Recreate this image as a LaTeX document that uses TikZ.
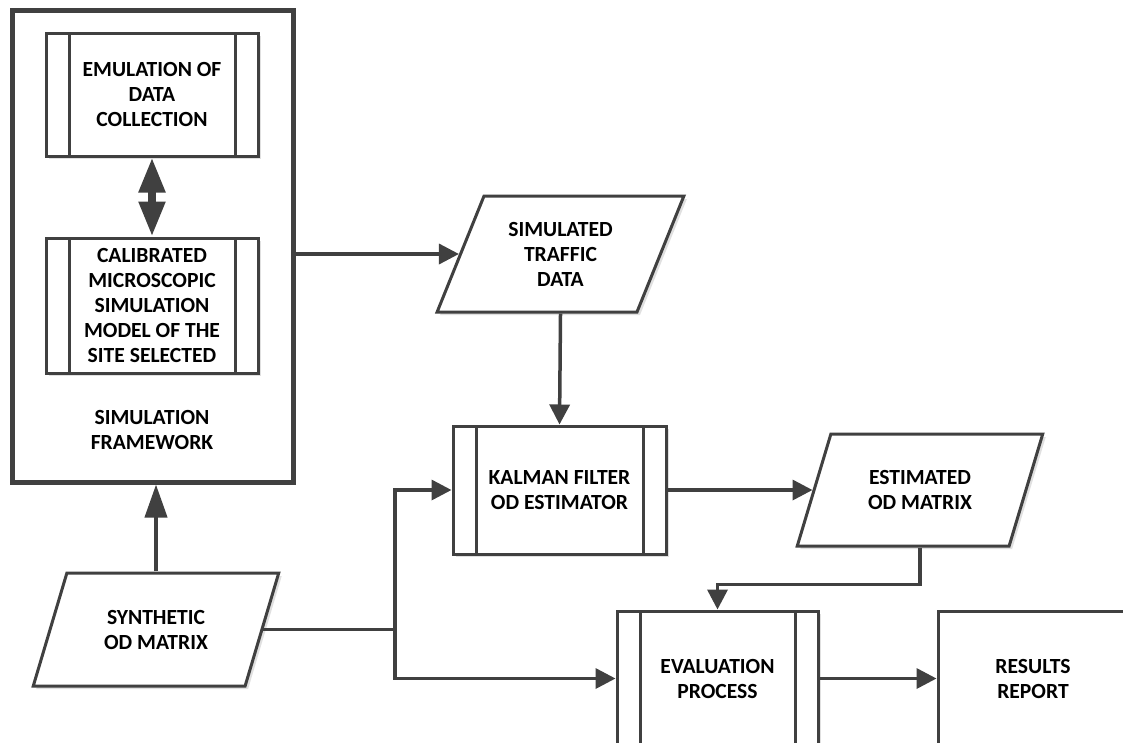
\documentclass[tikz,border=0pt]{standalone}
\usepackage{fontspec}
\setmainfont{Carlito}
\usetikzlibrary{shapes.geometric,arrows.meta,shadows,calc}
\definecolor{lc}{HTML}{404040}
\begin{document}
\begin{tikzpicture}[x=1pt,y=-1pt,
  every node/.style={font=\bfseries\fontsize{21.6}{25}\selectfont, align=center, text=black},
  shad/.style={drop shadow={shadow xshift=3pt, shadow yshift=-3pt, fill=black!12, opacity=1}},
  proc/.style={draw=lc, line width=3pt, fill=white, rectangle, inner sep=0pt, shad,
    path picture={\draw[lc, line width=3pt]
      ([xshift=23pt]path picture bounding box.north west) -- ([xshift=23pt]path picture bounding box.south west)
      ([xshift=-23pt]path picture bounding box.north east) -- ([xshift=-23pt]path picture bounding box.south east);}},
  io/.style={draw=lc, line width=3pt, fill=white, trapezium, trapezium left angle=63.5,
    trapezium right angle=116.5, trapezium stretches=true, inner sep=0pt, shad},
  arr/.style={draw=lc, line width=3.5pt, -{Triangle[length=20pt,width=20pt]}}
]
\clip (0,0) rectangle (1123,742);
\fill[white] (0,0) rectangle (1123,742);

\node[draw=lc, line width=5pt, minimum width=281pt, minimum height=472pt, inner sep=0pt, shad, fill=white] (frame) at (152.5,246) {};
\node[proc, minimum width=212pt, minimum height=123pt] (emu) at (152,94.5) {EMULATION OF\\DATA\\COLLECTION};
\node[proc, minimum width=212pt, minimum height=135pt] (cal) at (152,305.5) {CALIBRATED\\MICROSCOPIC\\SIMULATION\\MODEL OF THE\\SITE SELECTED};
\node (fwl) at (152,430) {SIMULATION\\FRAMEWORK};

\node[io, minimum width=246pt, minimum height=113pt] (syn) at (156,629.5) {SYNTHETIC\\OD MATRIX};
\node[io, minimum width=247pt, minimum height=116pt] (traf) at (560.5,254) {SIMULATED\\TRAFFIC\\DATA};
\node[proc, minimum width=213pt, minimum height=128pt] (kal) at (559.5,490) {KALMAN FILTER\\OD ESTIMATOR};
\node[io, minimum width=246pt, minimum height=112pt] (est) at (920,490) {ESTIMATED\\OD MATRIX};
\node[proc, minimum width=201pt, minimum height=135pt] (eval) at (717.5,678.5) {EVALUATION\\PROCESS};
\node[draw=lc, line width=3pt, fill=white, shad, inner sep=0pt, minimum width=190pt, minimum height=135pt] (res) at (1033,678.5) {RESULTS\\REPORT};

\draw[lc, line width=8pt, {Triangle[length=35pt,width=25pt]}-{Triangle[length=35pt,width=25pt]}] (emu.south) -- (cal.north);
\draw[lc, line width=4pt, -{Triangle[length=33pt,width=22pt]}] (syn.north) -- (syn.north |- frame.south);
\draw[arr] (frame.east |- traf.left side) -- (traf.left side);
\draw[arr] (traf.south) -- (kal.north);
\draw[arr] (kal.east) -- (est.left side);
\draw[arr] (est.south) -- ++(0,37) -| (eval.north);
\coordinate (j) at (395,629.5);
\draw[arr] (syn.right side) -- (j) |- (kal.west);
\draw[arr] (j) |- (eval.west);
\draw[arr] (eval.east) -- (res.west);
\end{tikzpicture}
\end{document}
